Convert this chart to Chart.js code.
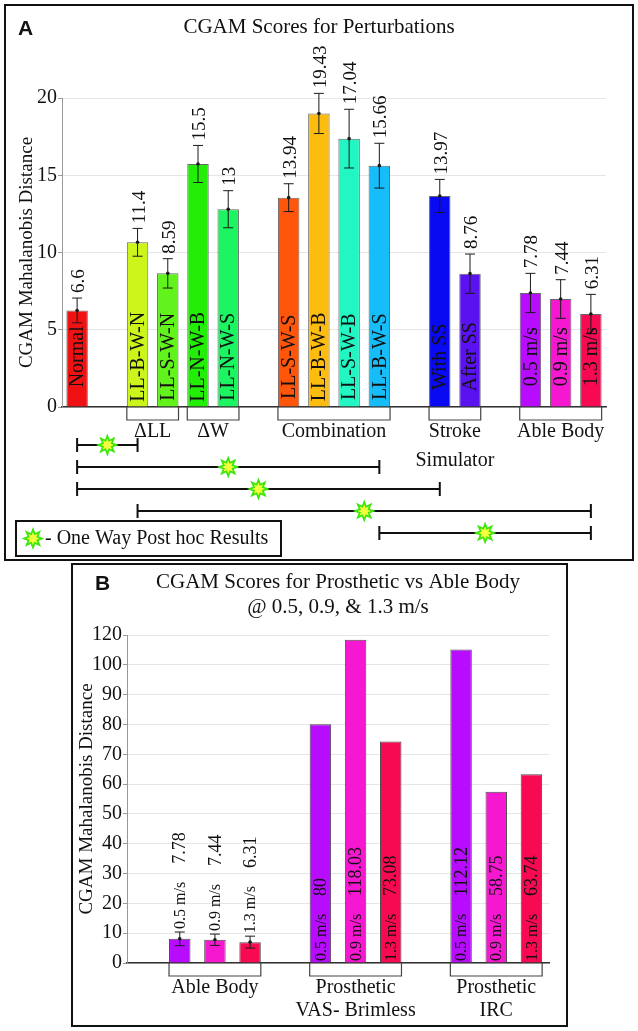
<!DOCTYPE html>
<html>
<head>
<meta charset="utf-8">
<script src="https://cdn.jsdelivr.net/npm/chart.js@4.4.1/dist/chart.umd.min.js"></script>
<style>
  body { margin: 0; background: #fff; width: 638px; height: 1031px; position: relative; overflow: hidden; }
  .panel { position: absolute; border: 2px solid #111; background: #fff; }
  #panel-a { left: 4px; top: 4px; width: 626px; height: 553px; }
  #panel-b { left: 71px; top: 563px; width: 493px; height: 460px; }
  canvas { display: block; }
  .font-warm { position: absolute; left: -999px; top: 0; font-size: 20px; }
</style>
</head>
<body>
<span class="font-warm" style="font-family: 'Liberation Serif'">CGAM 0123456789 m/s Δ</span>
<span class="font-warm" style="font-family: 'Liberation Sans'; font-weight: bold">AB</span>
<div class="panel" id="panel-a"><canvas id="chart-a" width="626" height="553"></canvas></div>
<div class="panel" id="panel-b"><canvas id="chart-b" width="493" height="460"></canvas></div>
<script>
const SERIF = '"Liberation Serif", "Times New Roman", Times, serif';
const SANS = '"Liberation Sans", Arial, sans-serif';

// ---- Panel A: perturbations ('' = spacer slot between groups)
const perturbations = ['Normal', '', 'LL-B-W-N', 'LL-S-W-N', 'LL-N-W-B', 'LL-N-W-S', '', 'LL-S-W-S', 'LL-B-W-B', 'LL-S-W-B', 'LL-B-W-S', '', 'With SS', 'After SS', '', '0.5 m/s', '0.9 m/s', '1.3 m/s'];
const perturbationScores = [6.25, null, 10.66, 8.65, 15.73, 12.8, null, 13.55, 19.0, 17.37, 15.62, null, 13.66, 8.63, null, 7.38, 6.99, 6.02];
const perturbationErrors = [0.8, null, 0.9, 0.95, 1.2, 1.2, null, 0.9, 1.3, 1.9, 1.45, null, 1.07, 1.27, null, 1.27, 1.25, 1.27];
const perturbationValueLabels = ['6.6', '', '11.4', '8.59', '15.5', '13', '', '13.94', '19.43', '17.04', '15.66', '', '13.97', '8.76', '', '7.78', '7.44', '6.31'];
const perturbationColors = ['#f01212', null, '#ccf51c', '#62f21c', '#22ee08', '#1cf561', null, '#ff560c', '#fdbc10', '#22f7c4', '#16bdf9', null, '#0a0af2', '#5a12f0', null, '#b80cff', '#f518d0', '#f70a52'];
const perturbationTicks = [0, 5, 10, 15, 20];
const perturbationGroups = [
  { label: ['ΔLL'], members: ['LL-B-W-N', 'LL-S-W-N'] },
  { label: ['ΔW'], members: ['LL-N-W-B', 'LL-N-W-S'] },
  { label: ['Combination'], members: ['LL-S-W-S', 'LL-B-W-B', 'LL-S-W-B', 'LL-B-W-S'] },
  { label: ['Stroke', 'Simulator'], members: ['With SS', 'After SS'] },
  { label: ['Able Body'], members: ['0.5 m/s', '0.9 m/s', '1.3 m/s'] }
];
const postHocPairs = [
  ['Normal', 'LL-B-W-N'],
  ['Normal', 'LL-B-W-S'],
  ['Normal', 'With SS'],
  ['LL-B-W-N', '1.3 m/s'],
  ['LL-B-W-S', '1.3 m/s']
];

// ---- Panel B: prosthetic vs able body
const speeds = ['', '0.5 m/s', '0.9 m/s', '1.3 m/s', '', '0.5 m/s', '0.9 m/s', '1.3 m/s', '', '0.5 m/s', '0.9 m/s', '1.3 m/s'];
const conditions = [null, 'able', 'able', 'able', null, 'vas', 'vas', 'vas', null, 'irc', 'irc', 'irc'];
const conditionNames = { able: ['Able Body'], vas: ['Prosthetic', 'VAS- Brimless'], irc: ['Prosthetic', 'IRC'] };
const prostheticScores = [null, 8.1, 7.8, 7.0, null, 80.1, 116.8, 74.3, null, 110.2, 57.4, 63.3];
const prostheticErrors = [null, 2.3, 1.9, 2.0, null, null, null, null, null, null, null, null];
const prostheticValueLabels = ['', '7.78', '7.44', '6.31', '', '80', '118.03', '73.08', '', '112.12', '58.75', '63.74'];
const prostheticColors = [null, '#b80cff', '#f518d0', '#f70a52', null, '#b80cff', '#f518d0', '#f70a52', null, '#b80cff', '#f518d0', '#f70a52'];
const prostheticTicks = [0, 10, 20, 30, 40, 50, 60, 70, 80, 90, 100, 120];

// the y axis of panel B runs at half scale above 100
const AXIS_BREAK = 100;
const SQUEEZE = 0.5;
const squeeze = v => v > AXIS_BREAK ? AXIS_BREAK + (v - AXIS_BREAK) * SQUEEZE : v;
const unsqueeze = v => v > AXIS_BREAK ? AXIS_BREAK + (v - AXIS_BREAK) / SQUEEZE : v;

class SqueezedScale extends Chart.LinearScale {
  static id = 'squeezed';
  getPixelForValue(value) {
    if (value === null || value === undefined) return NaN;
    return this.getPixelForDecimal((squeeze(value) - this.min) / (squeeze(this.max) - this.min));
  }
  getValueForPixel(pixel) {
    return unsqueeze(this.min + this.getDecimalForPixel(pixel) * (squeeze(this.max) - this.min));
  }
}
Chart.register(SqueezedScale);

// ---- drawing helpers
function upText(ctx, text, x, y, align) {
  ctx.save();
  ctx.translate(x, y);
  ctx.rotate(-Math.PI / 2);
  ctx.textAlign = align;
  ctx.textBaseline = 'middle';
  ctx.fillText(text, 0, 0);
  ctx.restore();
}

function starPath(ctx, x, y, outer, inner, points) {
  ctx.beginPath();
  for (let i = 0; i < points * 2; i++) {
    const r = i % 2 ? inner : outer;
    const a = -Math.PI / 2 + i * Math.PI / points;
    ctx.lineTo(x + r * Math.cos(a), y + r * Math.sin(a));
  }
  ctx.closePath();
}

function drawStar(ctx, x, y) {
  ctx.save();
  starPath(ctx, x, y, 11.5, 6, 8);
  ctx.fillStyle = '#3ee60c';
  ctx.fill();
  starPath(ctx, x, y, 6.5, 3.5, 8);
  ctx.fillStyle = '#f3ff3c';
  ctx.fill();
  ctx.restore();
}

function drawErrorBars(chart, values, errors) {
  const {ctx} = chart;
  const y = chart.scales.y;
  const bars = chart.getDatasetMeta(0).data;
  ctx.save();
  ctx.strokeStyle = '#1a1a1a';
  ctx.fillStyle = '#1a1a1a';
  ctx.lineWidth = 1;
  values.forEach((v, i) => {
    if (v == null || errors[i] == null) return;
    const x = bars[i].x;
    const top = y.getPixelForValue(v + errors[i]);
    const bot = y.getPixelForValue(v - errors[i]);
    ctx.beginPath();
    ctx.moveTo(x, top); ctx.lineTo(x, bot);
    ctx.moveTo(x - 5, top); ctx.lineTo(x + 5, top);
    ctx.moveTo(x - 5, bot); ctx.lineTo(x + 5, bot);
    ctx.stroke();
    ctx.beginPath();
    ctx.arc(x, bars[i].y, 1.8, 0, Math.PI * 2);
    ctx.fill();
  });
  ctx.restore();
}

function drawBracket(ctx, left, right, base, lines, lineGap) {
  ctx.save();
  ctx.strokeStyle = '#444';
  ctx.lineWidth = 1.2;
  ctx.beginPath();
  ctx.moveTo(left, base);
  ctx.lineTo(left, base + 13);
  ctx.lineTo(right, base + 13);
  ctx.lineTo(right, base);
  ctx.stroke();
  ctx.fillStyle = '#111';
  ctx.font = `20px ${SERIF}`;
  ctx.textAlign = 'center';
  ctx.textBaseline = 'middle';
  lines.forEach((line, k) => ctx.fillText(line, (left + right) / 2, base + 25 + k * lineGap));
  ctx.restore();
}

// ---- Panel A extras: error bars, labels, brackets, post hoc lines
const perturbationExtras = {
  id: 'perturbationExtras',
  afterDatasetsDraw(chart) {
    const {ctx} = chart;
    const yScale = chart.scales.y;
    const bars = chart.getDatasetMeta(0).data;
    const base = yScale.getPixelForValue(0);

    drawErrorBars(chart, perturbationScores, perturbationErrors);

    ctx.save();
    ctx.fillStyle = '#111';
    perturbationScores.forEach((v, i) => {
      if (v == null) return;
      const x = bars[i].x;
      ctx.font = `19px ${SERIF}`;
      upText(ctx, perturbationValueLabels[i], x + 2, yScale.getPixelForValue(v + perturbationErrors[i]) - 5, 'left');
      ctx.font = `20px ${SERIF}`;
      upText(ctx, perturbations[i], x + 1, yScale.getPixelForValue(3.25), 'center');
    });
    ctx.restore();

    perturbationGroups.forEach(g => {
      const first = bars[perturbations.indexOf(g.members[0])];
      const last = bars[perturbations.indexOf(g.members[g.members.length - 1])];
      drawBracket(ctx, first.x - first.width / 2, last.x + last.width / 2, base, g.label, 29);
    });

    ctx.save();
    ctx.strokeStyle = '#111';
    ctx.lineWidth = 2;
    postHocPairs.forEach(([a, b], k) => {
      const x1 = bars[perturbations.indexOf(a)].x;
      const x2 = bars[perturbations.indexOf(b)].x;
      const yy = base + 38 + k * 22;
      ctx.beginPath();
      ctx.moveTo(x1, yy); ctx.lineTo(x2, yy);
      ctx.moveTo(x1, yy - 7); ctx.lineTo(x1, yy + 7);
      ctx.moveTo(x2, yy - 7); ctx.lineTo(x2, yy + 7);
      ctx.stroke();
      drawStar(ctx, (x1 + x2) / 2, yy);
    });

    // legend box
    ctx.strokeRect(10, 515, 265, 35);
    drawStar(ctx, 27, 532.5);
    ctx.fillStyle = '#111';
    ctx.font = `20px ${SERIF}`;
    ctx.textAlign = 'left';
    ctx.textBaseline = 'middle';
    ctx.fillText('- One Way Post hoc Results', 39, 533);

    ctx.font = `bold 21px ${SANS}`;
    ctx.fillText('A', 12, 23);
    ctx.restore();
  }
};

// ---- Panel B extras
const prostheticExtras = {
  id: 'prostheticExtras',
  afterDatasetsDraw(chart) {
    const {ctx} = chart;
    const yScale = chart.scales.y;
    const bars = chart.getDatasetMeta(0).data;
    const base = yScale.getPixelForValue(0);

    drawErrorBars(chart, prostheticScores, prostheticErrors);

    ctx.save();
    ctx.fillStyle = '#111';
    prostheticScores.forEach((v, i) => {
      if (v == null) return;
      const x = bars[i].x + 1;
      const err = prostheticErrors[i] || 0;
      const y0 = v > 40 ? base - 2 : yScale.getPixelForValue(v + err) - 3;
      ctx.font = `16px ${SERIF}`;
      upText(ctx, speeds[i], x, y0, 'left');
      const w = ctx.measureText(speeds[i]).width;
      ctx.font = `18px ${SERIF}`;
      upText(ctx, prostheticValueLabels[i], x, y0 - w - 18, 'left');
    });
    ctx.restore();

    Object.keys(conditionNames).forEach(key => {
      const first = conditions.indexOf(key);
      const last = conditions.lastIndexOf(key);
      drawBracket(ctx, bars[first].x - bars[first].width / 2, bars[last].x + bars[last].width / 2, base, conditionNames[key], 23);
    });

    ctx.save();
    ctx.fillStyle = '#111';
    ctx.font = `bold 21px ${SANS}`;
    ctx.textBaseline = 'middle';
    ctx.fillText('B', 22, 19);
    ctx.restore();
  }
};

function yAxisStyle(width, titlePad) {
  return {
    afterFit: s => { s.width = width; },
    ticks: { font: { family: SERIF, size: 20 }, color: '#111', padding: 1 },
    grid: { color: '#e6e6e6', tickLength: 4, tickColor: '#999' },
    border: { color: '#999' },
    title: { display: true, text: 'CGAM Mahalanobis Distance', font: { family: SERIF, size: 19 }, color: '#111', padding: { top: titlePad, bottom: 0 } }
  };
}

const xAxisStyle = {
  ticks: { display: false },
  grid: { display: false },
  border: { color: '#333', width: 1.5 },
  afterFit: s => { s.height = 0; }
};

// empty right-hand axis: keeps the plot narrow while the title stays centred on the panel
function rightGutter(width) {
  return {
    position: 'right',
    ticks: { display: false },
    grid: { display: false },
    border: { display: false },
    afterFit: s => { s.width = width; }
  };
}

function drawCharts() {
  Chart.defaults.font.family = SERIF;

  new Chart(document.getElementById('chart-a'), {
    type: 'bar',
    data: {
      labels: perturbations,
      datasets: [{
        data: perturbationScores,
        backgroundColor: perturbationColors,
        borderColor: 'rgba(40,40,40,0.7)',
        borderWidth: 1,
        barPercentage: 0.71,
        categoryPercentage: 1
      }]
    },
    options: {
      responsive: false,
      animation: false,
      layout: { padding: { left: 0, right: 0, top: 0, bottom: 152 } },
      plugins: {
        legend: { display: false },
        tooltip: { enabled: false },
        title: {
          display: true,
          text: 'CGAM Scores for Perturbations',
          font: { family: SERIF, size: 21, weight: 'normal', lineHeight: 1.2 },
          color: '#111',
          padding: { top: 9, bottom: 57.8 }
        }
      },
      scales: {
        x: xAxisStyle,
        y: Object.assign({
          min: 0,
          max: 20,
          afterBuildTicks: s => { s.ticks = perturbationTicks.map(v => ({ value: v })); }
        }, yAxisStyle(56, 10)),
        gutter: rightGutter(26)
      }
    },
    plugins: [perturbationExtras]
  });

  new Chart(document.getElementById('chart-b'), {
    type: 'bar',
    data: {
      labels: speeds,
      datasets: [{
        data: prostheticScores,
        backgroundColor: prostheticColors,
        borderColor: 'rgba(30,30,30,0.8)',
        borderWidth: 1,
        barPercentage: 0.61,
        categoryPercentage: 1
      }]
    },
    options: {
      responsive: false,
      animation: false,
      layout: { padding: { left: 0, right: 17, top: 0, bottom: 62 } },
      plugins: {
        legend: { display: false },
        tooltip: { enabled: false },
        title: {
          display: true,
          fullSize: false,
          text: ['CGAM Scores for Prosthetic vs Able Body', '@ 0.5, 0.9, & 1.3 m/s'],
          font: { family: SERIF, size: 21, weight: 'normal', lineHeight: 1.2 },
          color: '#111',
          padding: { top: 5, bottom: 14.6 }
        }
      },
      scales: {
        x: xAxisStyle,
        y: Object.assign({
          type: 'squeezed',
          min: 0,
          max: 120,
          afterBuildTicks: s => { s.ticks = prostheticTicks.map(v => ({ value: v })); }
        }, yAxisStyle(54, 3))
      }
    },
    plugins: [prostheticExtras]
  });
}

Promise.all([
  document.fonts.load('20px "Liberation Serif"'),
  document.fonts.load('bold 20px "Liberation Sans"')
]).catch(() => {}).then(drawCharts);
</script>
</body>
</html>
